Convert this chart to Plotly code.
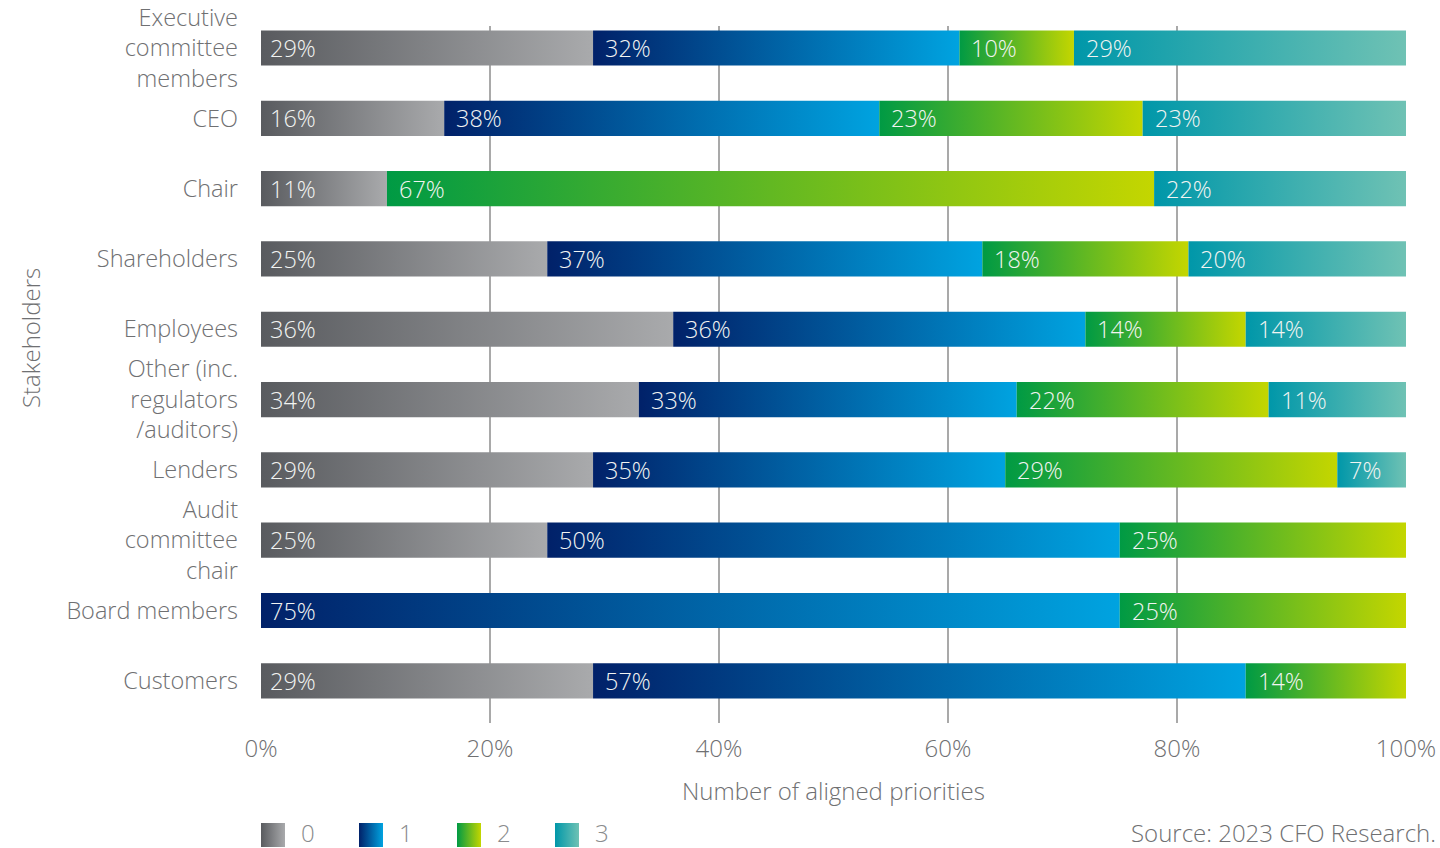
import plotly.graph_objects as go

# ---------------- data ----------------
categories = ["Executive<br>committee<br>members", "CEO", "Chair", "Shareholders", "Employees",
              "Other (inc.<br>regulators<br>/auditors)", "Lenders", "Audit<br>committee<br>chair",
              "Board members", "Customers"]
series_names = ["0", "1", "2", "3"]
values_0 = [29, 16, 11, 25, 36, 33, 29, 25, 0, 29]
values_1 = [32, 38, 0, 38, 36, 33, 36, 50, 75, 57]
values_2 = [10, 23, 67, 18, 14, 22, 29, 25, 25, 14]
values_3 = [29, 23, 22, 19, 14, 12, 6, 0, 0, 0]
labels_0 = ["29%", "16%", "11%", "25%", "36%", "34%", "29%", "25%", "", "29%"]
labels_1 = ["32%", "38%", "", "37%", "36%", "33%", "35%", "50%", "75%", "57%"]
labels_2 = ["10%", "23%", "67%", "18%", "14%", "22%", "29%", "25%", "25%", "14%"]
labels_3 = ["29%", "23%", "22%", "20%", "14%", "11%", "7%", "", "", ""]
x_ticks = [0, 20, 40, 60, 80, 100]
x_title = "Number of aligned priorities"
y_title = "Stakeholders"
source_text = "Source: 2023 CFO Research."

# ---------------- style ----------------
gradients = [("#595b5f", "#a9aaac"), ("#012169", "#00a3e0"),
             ("#009a44", "#c4d600"), ("#0097a9", "#6fc2b4")]
FONT = "Open Sans"
TEXT_GREY = "#6f7072"
FS = 24
W, H = 1440, 848
ML, MR, MT = 261, 34, 26
PW = W - ML - MR
PH = H - MT
plot_bottom_px = 723
half = 0.25

values = [values_0, values_1, values_2, values_3]
labels = [labels_0, labels_1, labels_2, labels_3]
n = len(categories)

fig = go.Figure()
annotations = []

for i in range(n):
    start = 0
    for j in range(4):
        v = values[j][i]
        if v > 0:
            x0, x1 = start, start + v
            fig.add_trace(go.Scatter(
                x=[x0, x1, x1, x0, x0],
                y=[i - half, i - half, i + half, i + half, i - half],
                mode="lines", line=dict(width=0), fill="toself",
                fillgradient=dict(type="horizontal",
                                  colorscale=[[0, gradients[j][0]], [1, gradients[j][1]]]),
                hoverinfo="skip", showlegend=False, xaxis="x", yaxis="y"))
            if labels[j][i]:
                annotations.append(dict(
                    x=x0, y=i, xref="x", yref="y", text=labels[j][i], showarrow=False,
                    xanchor="left", yanchor="middle", xshift=7 if x0 == 0 else 10,
                    font=dict(family=FONT, size=23.5, color="#f2f4f2", weight=300)))
            start = x1

# legend (gradient squares) on a helper axis in pixel units
for k, name in enumerate(series_names):
    lx = k * 98
    fig.add_trace(go.Scatter(
        x=[lx, lx + 24, lx + 24, lx, lx], y=[1, 1, 25, 25, 1],
        mode="lines", line=dict(width=0), fill="toself",
        fillgradient=dict(type="horizontal",
                          colorscale=[[0, gradients[k][0]], [1, gradients[k][1]]]),
        hoverinfo="skip", showlegend=False, xaxis="x2", yaxis="y2"))
    annotations.append(dict(
        x=lx + 38, y=16, xref="x2", yref="y2", text=name, showarrow=False,
        xanchor="left", yanchor="middle",
        font=dict(family=FONT, size=FS, color="#8a8b8d", weight=300)))

annotations.append(dict(
    x=0.5, y=(H - 790) / PH, xref="paper", yref="paper", text=x_title, showarrow=False,
    xanchor="center", yanchor="middle", font=dict(family=FONT, size=FS, color=TEXT_GREY, weight=300)))
annotations.append(dict(
    x=(30 - ML) / PW, y=(H - 338) / PH, xref="paper", yref="paper", text=y_title, showarrow=False,
    textangle=-90, xanchor="center", yanchor="middle",
    font=dict(family=FONT, size=FS, color=TEXT_GREY, weight=300)))
annotations.append(dict(
    x=(1438 - ML) / PW, y=(H - 832) / PH, xref="paper", yref="paper", text=source_text,
    showarrow=False, xanchor="right", yanchor="middle",
    font=dict(family=FONT, size=FS, color=TEXT_GREY, weight=300)))

fig.update_layout(
    width=W, height=H,
    margin=dict(l=ML, r=MR, t=MT, b=0, pad=0),
    paper_bgcolor="white", plot_bgcolor="white",
    font=dict(family=FONT, size=FS, color=TEXT_GREY, weight=300),
    hovermode=False,
    showlegend=False,
    xaxis=dict(range=[0, 100], tickvals=x_ticks, ticktext=[f"{t}%" for t in x_ticks],
               showgrid=True, gridcolor="#a9a9a9", gridwidth=1.5, zeroline=False,
               showline=False, ticks="", ticklabelstandoff=9, fixedrange=True,
               ticklabeloverflow="allow", domain=[0, 1], anchor="y"),
    yaxis=dict(range=[n - 1 + 0.6, -0.313], tickvals=list(range(n)), ticktext=categories,
               showgrid=False, zeroline=False, showline=False, ticks="",
               ticklabelstandoff=22, fixedrange=True, ticklabeloverflow="allow",
               tickfont=dict(family=FONT, size=23.5, color=TEXT_GREY, weight=300),
               domain=[(H - plot_bottom_px) / PH, 1], anchor="x"),
    xaxis2=dict(range=[0, PW], domain=[0, 1], anchor="y2", visible=False, fixedrange=True),
    yaxis2=dict(range=[0, 26], domain=[0, 26 / PH], anchor="x2", visible=False, fixedrange=True),
    annotations=annotations,
)

fig.write_html("out.html")
